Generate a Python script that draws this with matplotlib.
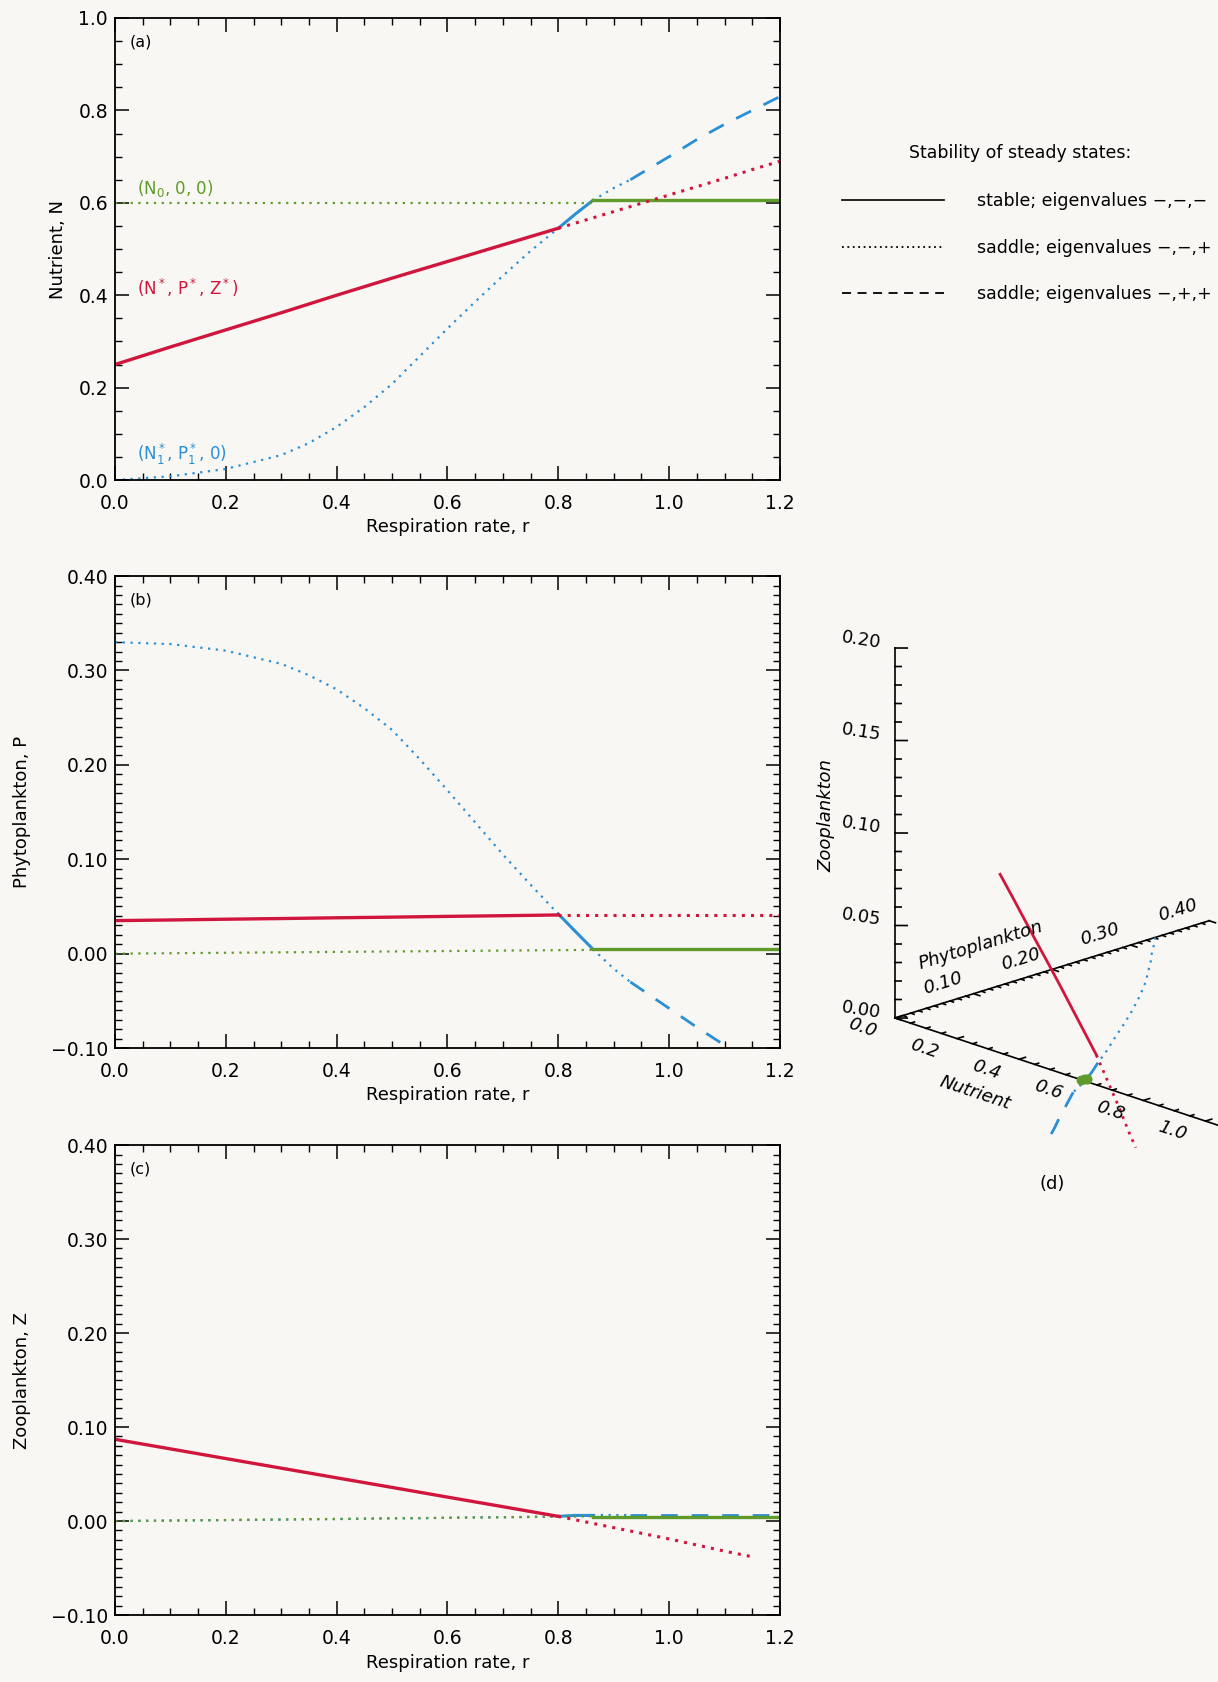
import matplotlib
matplotlib.use('Agg')
import matplotlib.pyplot as plt
import numpy as np
from matplotlib.lines import Line2D
from matplotlib.ticker import MultipleLocator, FuncFormatter
from mpl_toolkits.mplot3d import proj3d

plt.rcParams['font.family'] = ['DejaVu Sans']
plt.rcParams['mathtext.default'] = 'regular'

RED = '#d0163c'
BLUE = '#2b8fd6'
GREEN = '#5f9a2a'
BG = '#f8f7f3'

# coexistence steady state (N*, P*, Z*), stable part
r_red = [0.0, 0.1, 0.2, 0.3, 0.4, 0.5, 0.6, 0.7, 0.8]
N_red = [0.25, 0.288, 0.325, 0.362, 0.40, 0.437, 0.473, 0.509, 0.545]
P_red = [0.035, 0.0357, 0.0365, 0.0372, 0.038, 0.0387, 0.0395, 0.0402, 0.041]
Z_red = [0.087, 0.0768, 0.0665, 0.0563, 0.046, 0.0358, 0.0255, 0.0153, 0.005]
# coexistence state, saddle part
r_red_dot = [0.8, 0.9, 1.0, 1.1, 1.15, 1.2]
N_red_dot = [0.545, 0.581, 0.617, 0.653, 0.672, 0.69]
P_red_dot = [0.041, 0.041, 0.041, 0.041, 0.041, 0.041]
Z_red_dot = [0.005, -0.007, -0.019, -0.032, -0.038, np.nan]

# (N1*, P1*, 0)
r_blue_dot = [0.0, 0.1, 0.2, 0.3, 0.35, 0.4, 0.45, 0.5, 0.55, 0.6, 0.65, 0.7, 0.75, 0.8]
N_blue_dot = [0.0, 0.008, 0.024, 0.054, 0.08, 0.115, 0.158, 0.208, 0.268, 0.328, 0.386, 0.442, 0.496, 0.545]
P_blue_dot = [0.330, 0.328, 0.321, 0.307, 0.295, 0.280, 0.260, 0.237, 0.206, 0.173, 0.139, 0.105, 0.073, 0.042]
Z_blue_dot = [0.0, 0.0005, 0.001, 0.0015, 0.002, 0.002, 0.0025, 0.003, 0.003, 0.0035, 0.004, 0.004, 0.0045, 0.005]
r_blue_sol = [0.8, 0.83, 0.862]
N_blue_sol = [0.545, 0.575, 0.605]
P_blue_sol = [0.042, 0.024, 0.005]
Z_blue_sol = [0.005, 0.006, 0.006]
r_blue_dot2 = [0.862, 0.9, 0.93]
N_blue_dot2 = [0.605, 0.632, 0.65]
P_blue_dot2 = [0.005, -0.016, -0.03]
Z_blue_dot2 = [0.006, 0.006, 0.006]
r_blue_dash = [0.93, 1.0, 1.05, 1.1, 1.15, 1.2]
N_blue_dash = [0.65, 0.70, 0.737, 0.77, 0.80, 0.83]
P_blue_dash = [-0.03, -0.058, -0.078, -0.097, -0.113, -0.13]
Z_blue_dash = [0.006, 0.006, 0.006, 0.006, 0.006, 0.006]

# (N0, 0, 0)
r_green_dot = [0.0, 0.862]
N_green_dot = [0.60, 0.60]
P_green_dot = [0.0, 0.004]
Z_green_dot = [0.0, 0.005]
r_green_sol = [0.862, 1.2]
N_green_sol = [0.607, 0.607]
P_green_sol = [0.005, 0.005]
Z_green_sol = [0.004, 0.004]

# 3-D axis tick labels
N_ticks = [0.0, 0.2, 0.4, 0.6, 0.8, 1.0]
P_ticks = [0.1, 0.2, 0.3, 0.4]
Z_ticks = [0.0, 0.05, 0.10, 0.15, 0.20]

DOT = (0, (1, 2.5))
RDOT = (0, (1, 2))
DASH = (0, (6, 5))

fig = plt.figure(figsize=(12.18, 16.82), dpi=100, facecolor=BG)


def fmt(nd):
    return FuncFormatter(lambda v, p: ('%.*f' % (nd, v)).replace('-', '\u2212'))


def panel(rect, key, ylim, ymaj, ymin, nd, ylabel, tag, lpad):
    ax = fig.add_axes(rect, facecolor=BG)
    ax.plot(r_blue_dot, key['blue_dot'], color=BLUE, lw=1.6, ls=DOT)
    ax.plot(r_blue_sol, key['blue_sol'], color=BLUE, lw=2.2)
    ax.plot(r_blue_dot2, key['blue_dot2'], color=BLUE, lw=1.6, ls=DOT)
    ax.plot(r_blue_dash, key['blue_dash'], color=BLUE, lw=2.0, ls=DASH)
    ax.plot(r_green_dot, key['green_dot'], color=GREEN, lw=1.6, ls=DOT)
    ax.plot(r_green_sol, key['green_sol'], color=GREEN, lw=2.4)
    ax.plot(r_red, key['red'], color=RED, lw=2.4)
    ax.plot(r_red_dot, key['red_dot'], color=RED, lw=2.2, ls=RDOT)
    ax.set_xlim(0, 1.2)
    ax.set_ylim(*ylim)
    ax.xaxis.set_major_locator(MultipleLocator(0.2))
    ax.xaxis.set_minor_locator(MultipleLocator(0.05))
    ax.xaxis.set_major_formatter(fmt(1))
    ax.yaxis.set_major_locator(MultipleLocator(ymaj))
    ax.yaxis.set_minor_locator(MultipleLocator(ymin))
    ax.yaxis.set_major_formatter(fmt(nd))
    ax.tick_params(which='both', direction='in', top=True, right=True, labelsize=13.5)
    ax.tick_params(axis='x', pad=10)
    ax.tick_params(axis='y', pad=5)
    ax.tick_params(which='major', length=10, width=1.1)
    ax.tick_params(which='minor', length=5, width=1.0)
    for s in ax.spines.values():
        s.set_linewidth(1.3)
    ax.set_xlabel('Respiration rate, r', fontsize=13, labelpad=4)
    ax.set_ylabel(ylabel, fontsize=13, labelpad=lpad)
    ax.text(0.022, 0.965, tag, transform=ax.transAxes, ha='left', va='top', fontsize=11.5)
    return ax


keyN = dict(blue_dot=N_blue_dot, blue_sol=N_blue_sol, blue_dot2=N_blue_dot2, blue_dash=N_blue_dash,
            green_dot=N_green_dot, green_sol=N_green_sol, red=N_red, red_dot=N_red_dot)
keyP = dict(blue_dot=P_blue_dot, blue_sol=P_blue_sol, blue_dot2=P_blue_dot2, blue_dash=P_blue_dash,
            green_dot=P_green_dot, green_sol=P_green_sol, red=P_red, red_dot=P_red_dot)
keyZ = dict(blue_dot=Z_blue_dot, blue_sol=Z_blue_sol, blue_dot2=Z_blue_dot2, blue_dash=Z_blue_dash,
            green_dot=Z_green_dot, green_sol=Z_green_sol, red=Z_red, red_dot=Z_red_dot)

ax_a = panel([0.0944, 0.7146, 0.546, 0.2747], keyN, (0, 1.0), 0.2, 0.05, 1, 'Nutrient, N', '(a)', 8)
ax_b = panel([0.0944, 0.3769, 0.546, 0.2806], keyP, (-0.1, 0.4), 0.1, 0.01, 2, 'Phytoplankton, P', '(b)', 14)
ax_c = panel([0.0944, 0.0398, 0.546, 0.2794], keyZ, (-0.1, 0.4), 0.1, 0.01, 2, 'Zooplankton, Z', '(c)', 14)

ax_a.text(0.04, 0.63, '(N$_0$, 0, 0)', color=GREEN, fontsize=12, va='center')
ax_a.text(0.04, 0.416, '(N$^*$, P$^*$, Z$^*$)', color=RED, fontsize=12, va='center')
ax_a.text(0.04, 0.055, '(N$_1^*$, P$_1^*$, 0)', color=BLUE, fontsize=12, va='center')

# legend
fig.text(909 / 1218, 1 - 153 / 1682, 'Stability of steady states:', fontsize=12.5, va='center')
handles = [Line2D([], [], color='k', lw=1.2),
           Line2D([], [], color='k', lw=1.3, ls=(0, (1, 2))),
           Line2D([], [], color='k', lw=1.3, ls=(0, (5, 3.6)))]
labels = ['stable; eigenvalues \u2212,\u2212,\u2212',
          'saddle; eigenvalues \u2212,\u2212,+',
          'saddle; eigenvalues \u2212,+,+']
fig.legend(handles, labels, loc='upper left', bbox_to_anchor=(842 / 1218, 1 - 192 / 1682),
           frameon=False, fontsize=12.5, handlelength=5.9, handletextpad=1.9, labelspacing=1.65,
           borderpad=0, borderaxespad=0)

# (d) 3-D phase space
W = 0.4
ax3 = fig.add_axes([0.6, 0.3, W, W * 1218 / 1682], projection='3d')
ax3.patch.set_visible(False)
ax3.set_proj_type('ortho')
ax3.view_init(elev=18.7, azim=-44)
ax3.set_xlim(0, 1.0)
ax3.set_ylim(0, 0.4)
ax3.set_zlim(0, 0.2)
ax3.set_xticks([])
ax3.set_yticks([])
ax3.set_zticks([])
ax3.set_box_aspect((445, 435, 389))
ax3.set_axis_off()

k = dict(color='k', lw=1.2)
ax3.plot([0, 1.1], [0, 0], [0, 0], **k)
ax3.plot([0, 0], [0, 0.4], [0, 0], **k)
ax3.plot([0, 0], [0, 0], [0, 0.2], **k)
for v in np.arange(0, 1.101, 0.05):
    ln = 0.008 if abs(v / 0.2 - round(v / 0.2)) < 1e-6 else 0.005
    ax3.plot([v, v], [0, ln], [0, 0], **k)
for v in np.arange(0, 0.401, 0.01):
    ln = 0.02 if abs(v / 0.1 - round(v / 0.1)) < 1e-6 else 0.011
    ax3.plot([0, ln], [v, v], [0, 0], **k)
for v in np.arange(0, 0.201, 0.01):
    ln = 1.6 if abs(v / 0.05 - round(v / 0.05)) < 1e-6 else 0.8
    ax3.plot([0, 0.012 * ln], [0, 0.005 * ln], [v, v], **k)

ax3.plot(N_blue_dot, P_blue_dot, np.zeros(len(N_blue_dot)), color=BLUE, lw=1.6, ls=DOT)
ax3.plot(N_blue_sol, P_blue_sol, np.zeros(len(N_blue_sol)), color=BLUE, lw=2.0)
ax3.plot(N_blue_dot2, P_blue_dot2, np.zeros(len(N_blue_dot2)), color=BLUE, lw=1.6, ls=DOT)
ax3.plot(N_blue_dash, P_blue_dash, np.zeros(len(N_blue_dash)), color=BLUE, lw=2.0, ls=DASH)
ax3.plot(N_red, P_red, Z_red, color=RED, lw=2.0)
ax3.plot(N_red_dot[:-1], P_red_dot[:-1], Z_red_dot[:-1], color=RED, lw=2.0, ls=RDOT)
ax3.plot(N_green_dot, P_green_dot, np.zeros(2), color=GREEN, lw=5, marker='o', ms=6)
ax3.plot(N_green_sol, P_green_sol, np.zeros(2), color=GREEN, lw=5, marker='o', ms=6)

# place the 3-D box so that its origin and z-axis match the reference layout
fig.canvas.draw()


def to_px(x, y, z):
    xs, ys, _ = proj3d.proj_transform(x, y, z, ax3.get_proj())
    return ax3.transData.transform((xs, ys))


p0 = to_px(0, 0, 0)
pz = to_px(0, 0, 0.2)
scale = 370.0 / (pz[1] - p0[1])
bb = ax3.get_window_extent()
cx, cy = (bb.x0 + bb.x1) / 2, (bb.y0 + bb.y1) / 2
target = np.array([895.0, 1682 - 1018.0])
ncx = target[0] - (p0[0] - cx) * scale
ncy = target[1] - (p0[1] - cy) * scale
nw, nh = bb.width * scale, bb.height * scale
ax3.set_position([(ncx - nw / 2) / 1218, (ncy - nh / 2) / 1682, nw / 1218, nh / 1682])
fig.canvas.draw()


def label3d(x, y, z, s, d, **kw):
    # text placed at the projected point, turned along the projected direction d
    p = to_px(x, y, z)
    q = to_px(x + d[0] * 0.01, y + d[1] * 0.01, z + d[2] * 0.01)
    ang = np.degrees(np.arctan2(q[1] - p[1], q[0] - p[0]))
    fig.text(p[0] / 1218, p[1] / 1682, s, rotation=ang, rotation_mode='anchor', fontsize=13, **kw)


for v in N_ticks:
    label3d(v, -0.042, 0, '%.1f' % v, (1, 0, 0), ha='center', va='center', style='italic')
for v in P_ticks:
    label3d(-0.1, v, 0, '%.2f' % v, (0, 0.4, 0), ha='center', va='center', style='italic')
for v in Z_ticks:
    label3d(-0.02, -0.01, v + 0.003, '%.2f' % v, (1, 0.15, 0), ha='right', va='center')
label3d(0.5, -0.095, 0, 'Nutrient', (1, 0, 0), ha='center', va='center', style='italic')
label3d(-0.23, 0.2, 0, 'Phytoplankton', (0, 0.4, 0), ha='center', va='center', style='italic')
label3d(-0.11, -0.044, 0.109, 'Zooplankton', (0, 0, 1), ha='center', va='center', style='italic')

fig.text(1052 / 1218, 1 - 1184 / 1682, '(d)', fontsize=13, ha='center', va='center')

fig.savefig('out.png', dpi=100, facecolor=BG)
